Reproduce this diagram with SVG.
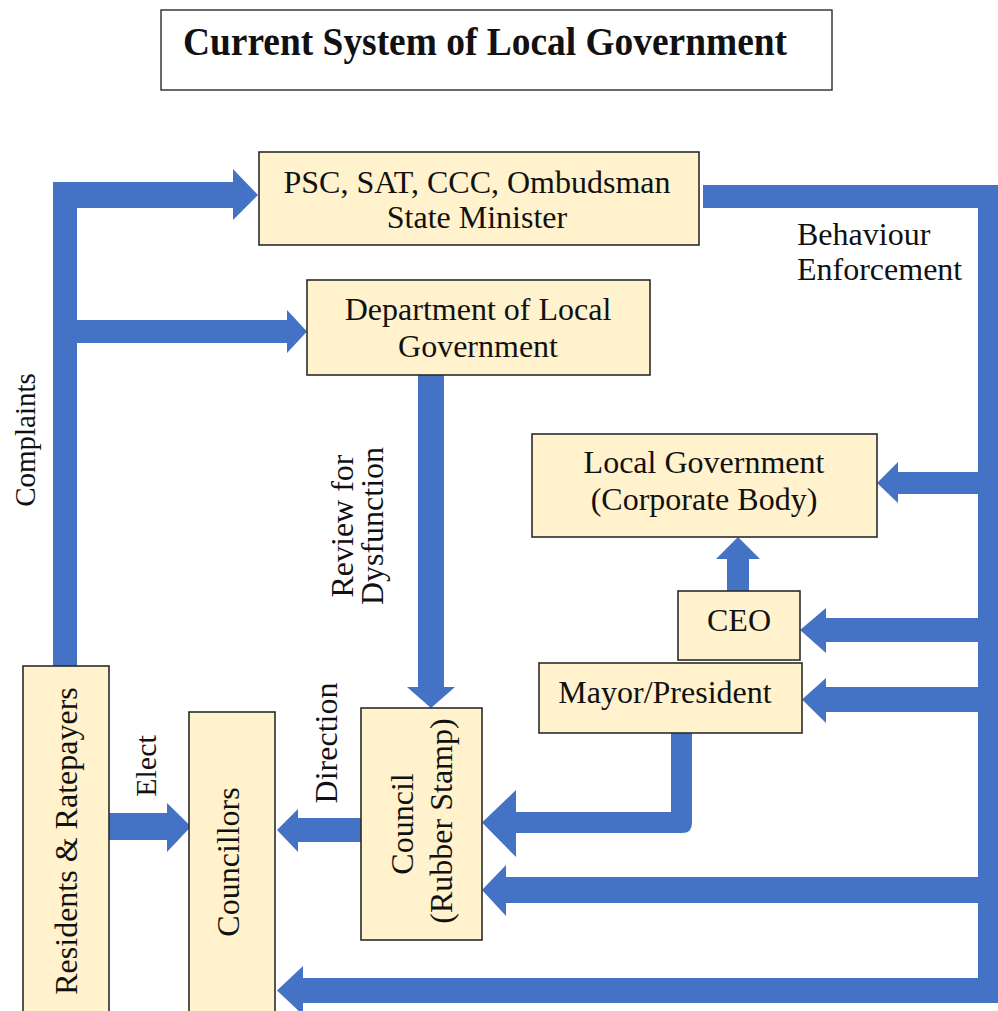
<svg xmlns="http://www.w3.org/2000/svg" width="998" height="1011" viewBox="0 0 998 1011">
  <style>
    .box { fill: #FFF2CC; stroke: #2b2b2b; stroke-width: 1.6; }
    .title-box { fill: #ffffff; stroke: #2b2b2b; stroke-width: 1.4; }
    .flow { fill: #4472C4; }
    text { font-family: "Liberation Serif", "Times New Roman", serif; fill: #111; }
    .t { font-size: 32px; text-anchor: middle; }
    .lbl { font-size: 32px; }
    .title { font-size: 40px; font-weight: bold; }
  </style>

  <rect width="998" height="1011" fill="#ffffff"/>

  <!-- Title -->
  <g id="title">
    <rect class="title-box" x="161" y="10" width="671" height="80"/>
    <text class="title" x="183" y="55" textLength="604" lengthAdjust="spacingAndGlyphs">Current System of Local Government</text>
  </g>

  <!-- Connectors -->
  <g id="connectors">
    <!-- complaints trunk from residents to oversight bodies and department -->
    <path class="flow" d="M53,667 V182 H233 V169 L258,195 L233,220 V208 H77 V320 H287 V310 L307,331.5 L287,353 V343 H77 V667 Z"/>
    <!-- behaviour enforcement trunk down the right side -->
    <path class="flow" d="M703,185 H1002 V1003 H303 V1015 L277,990.5 L303,966 V978 H978 V208 H703 Z"/>
    <!-- branches off the enforcement trunk -->
    <path class="flow" d="M990,472 H898 V462 L877,483 L898,503 V494 H990 Z"/>
    <path class="flow" d="M990,618 H826 V608 L800,630 L826,653 V642 H990 Z"/>
    <path class="flow" d="M1000,687 H826 V678 L802,699.5 L826,723 V712 H1000 Z"/>
    <path class="flow" d="M990,877 H506 V865 L482,890 L506,916 V903 H990 Z"/>
    <!-- mayor to council elbow -->
    <path class="flow" d="M671,733 H692 V823 Q692,833 682,833 H516 V857 L482,822.5 L516,790 V812 H671 Z"/>
    <!-- review for dysfunction -->
    <path class="flow" d="M418,375 H444 V687 H455 L431,708 L407,687 H418 Z"/>
    <!-- elect -->
    <path class="flow" d="M109,813 H167 V803 L191,826.5 L167,852 V840 H109 Z"/>
    <!-- direction -->
    <path class="flow" d="M361,818 H298 V809 L277,830 L298,852 V842 H361 Z"/>
    <!-- CEO to corporate body -->
    <path class="flow" d="M727,591 V559 H716 L738,537 L760,559 H749 V591 Z"/>
  </g>

  <!-- Connector labels -->
  <g id="labels">
    <text class="lbl" x="797" y="245">Behaviour</text>
    <text class="lbl" x="797" y="280">Enforcement</text>
    <text class="lbl" style="font-size:29px" text-anchor="middle" transform="translate(35,440) rotate(-90)">Complaints</text>
    <text class="lbl" style="font-size:30px" text-anchor="middle" transform="translate(156,766) rotate(-90)">Elect</text>
    <text class="lbl" text-anchor="middle" transform="translate(337,743) rotate(-90)">Direction</text>
    <text class="lbl" text-anchor="middle" transform="translate(353,526) rotate(-90)">Review for</text>
    <text class="lbl" text-anchor="middle" transform="translate(383,526) rotate(-90)">Dysfunction</text>
  </g>

  <g id="node-psc">
    <rect class="box" x="259" y="152" width="440" height="93"/>
    <text class="t" x="477" y="193">PSC, SAT, CCC, Ombudsman</text>
    <text class="t" x="477" y="228">State Minister</text>
  </g>

  <g id="node-dlg">
    <rect class="box" x="307" y="280" width="343" height="95"/>
    <text class="t" x="478" y="320">Department of Local</text>
    <text class="t" x="478" y="357">Government</text>
  </g>

  <g id="node-local-government">
    <rect class="box" x="532" y="434" width="345" height="103"/>
    <text class="t" x="704" y="473">Local Government</text>
    <text class="t" x="704" y="510">(Corporate Body)</text>
  </g>

  <g id="node-ceo">
    <rect class="box" x="678" y="591" width="122" height="69"/>
    <text class="t" x="739" y="631">CEO</text>
  </g>

  <g id="node-mayor">
    <rect class="box" x="539" y="663" width="263" height="70"/>
    <text class="t" x="665" y="703">Mayor/President</text>
  </g>

  <g id="node-council">
    <rect class="box" x="361" y="708" width="121" height="232"/>
    <text class="t" transform="translate(413,824) rotate(-90)">Council</text>
    <text class="t" transform="translate(452,821) rotate(-90)">(Rubber Stamp)</text>
  </g>

  <g id="node-councillors">
    <rect class="box" x="189" y="712" width="86" height="310"/>
    <text class="t" transform="translate(239,862) rotate(-90)">Councillors</text>
  </g>

  <g id="node-residents">
    <rect class="box" x="23" y="666" width="86" height="356"/>
    <text class="t" transform="translate(77,841) rotate(-90)">Residents &amp; Ratepayers</text>
  </g>
</svg>
